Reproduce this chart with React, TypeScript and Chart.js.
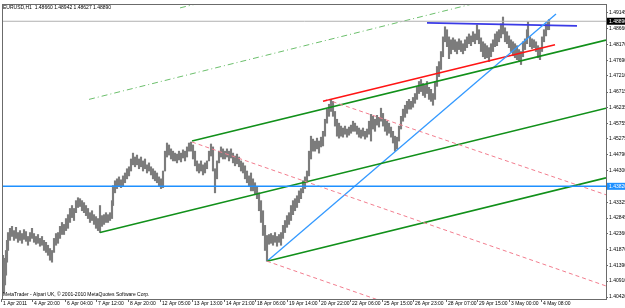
import React, { useEffect, useRef } from 'react';
import { Chart, registerables } from 'chart.js';

Chart.register(...registerables);

const FONT = "'Liberation Sans', Arial, sans-serif";

const symbol = 'EURUSD,H1';
const lastOpen = 1.4866;
const lastHigh = 1.48942;
const lastLow = 1.48627;
const lastClose = 1.4889;
const blueLevel = 1.4382;
const priceMin = 1.40359;
const priceMax = 1.4942;
const lastIndex = 603;

const priceTicks = [
  1.49145, 1.4866, 1.4817, 1.4769, 1.4721, 1.46715, 1.46235, 1.45755, 1.45275, 1.4479,
  1.443, 1.43325, 1.42845, 1.4236, 1.4187, 1.4139, 1.4091, 1.4042,
];

const timeTickIndex = [-2, 29, 62, 93, 125, 157, 189, 221, 252, 284, 316, 347, 379, 410, 443, 474, 506, 538];
const timeTickLabels = [
  '1 Apr 2011', '4 Apr 20:00', '6 Apr 04:00', '7 Apr 12:00', '8 Apr 20:00', '12 Apr 05:00',
  '13 Apr 13:00', '14 Apr 21:00', '18 Apr 06:00', '19 Apr 14:00', '20 Apr 22:00', '22 Apr 06:00',
  '25 Apr 15:00', '26 Apr 23:00', '28 Apr 07:00', '29 Apr 15:00', '3 May 00:00', '4 May 08:00',
];

const barIndex = [
  0, 1, 2, 3, 4, 5, 7, 9, 11, 13,
  15, 17, 19, 21, 23, 25, 27, 29, 31, 33,
  35, 37, 39, 41, 43, 45, 47, 49, 51, 53,
  55, 57, 59, 61, 63, 65, 67, 69, 71, 73,
  75, 77, 79, 81, 83, 85, 87, 89, 91, 93,
  95, 97, 99, 101, 103, 105, 107, 109, 110, 112,
  114, 116, 118, 120, 122, 124, 126, 128, 130, 132,
  134, 136, 138, 140, 142, 144, 146, 148, 150, 152,
  154, 156, 158, 160, 162, 164, 166, 168, 170, 172,
  174, 176, 178, 180, 182, 184, 186, 188, 190, 192,
  194, 196, 198, 200, 202, 204, 206, 208, 210, 212,
  214, 216, 218, 220, 222, 224, 226, 228, 230, 232,
  234, 236, 238, 240, 242, 244, 246, 248, 250, 252,
  254, 256, 258, 260, 262, 264, 266, 268, 270, 272,
  274, 276, 278, 280, 282, 284, 286, 288, 290, 292,
  294, 296, 298, 300, 302, 304, 306, 308, 310, 312,
  314, 316, 318, 320, 322, 324, 326, 328, 330, 332,
  334, 336, 338, 340, 342, 344, 346, 348, 350, 352,
  354, 356, 358, 360, 362, 364, 366, 368, 370, 372,
  374, 376, 378, 380, 382, 384, 386, 388, 390, 392,
  394, 396, 398, 400, 402, 404, 406, 408, 410, 412,
  414, 416, 418, 420, 422, 424, 426, 428, 430, 432,
  434, 436, 438, 440, 442, 444, 446, 448, 450, 452,
  454, 456, 458, 460, 462, 464, 466, 468, 470, 472,
  474, 476, 478, 480, 482, 484, 486, 488, 490, 492,
  494, 496, 498, 500, 502, 504, 506, 508, 510, 512,
  514, 516, 518, 520, 522, 524, 525, 527, 529, 531,
  533, 535, 537, 539, 541, 543, 545, 546,
];

const barHigh = [
  1.4170, 1.4149, 1.4161, 1.4185, 1.4216, 1.4240, 1.4253, 1.4259, 1.4246, 1.4256,
  1.4240, 1.4246, 1.4237, 1.4249, 1.4243, 1.4228, 1.4240, 1.4253, 1.4237, 1.4228,
  1.4234, 1.4222, 1.4228, 1.4216, 1.4210, 1.4201, 1.4191, 1.4185, 1.4222, 1.4237,
  1.4240, 1.4259, 1.4271, 1.4265, 1.4283, 1.4295, 1.4314, 1.4323, 1.4314, 1.4338,
  1.4347, 1.4344, 1.4338, 1.4332, 1.4323, 1.4314, 1.4301, 1.4307, 1.4295, 1.4289,
  1.4283, 1.4323, 1.4292, 1.4295, 1.4301, 1.4295, 1.4301, 1.4338, 1.4384, 1.4399,
  1.4405, 1.4411, 1.4402, 1.4414, 1.4423, 1.4436, 1.4442, 1.4466, 1.4484, 1.4472,
  1.4478, 1.4466, 1.4472, 1.4460, 1.4466, 1.4448, 1.4454, 1.4442, 1.4436, 1.4429,
  1.4423, 1.4411, 1.4405, 1.4429, 1.4490, 1.4515, 1.4509, 1.4497, 1.4490, 1.4484,
  1.4481, 1.4490, 1.4484, 1.4494, 1.4490, 1.4503, 1.4515, 1.4518, 1.4509, 1.4490,
  1.4460, 1.4451, 1.4460, 1.4448, 1.4454, 1.4460, 1.4490, 1.4512, 1.4503, 1.4436,
  1.4460, 1.4490, 1.4503, 1.4497, 1.4490, 1.4497, 1.4490, 1.4497, 1.4484, 1.4475,
  1.4481, 1.4472, 1.4460, 1.4454, 1.4445, 1.4429, 1.4414, 1.4423, 1.4405, 1.4393,
  1.4381, 1.4362, 1.4338, 1.4307, 1.4262, 1.4231, 1.4234, 1.4237, 1.4231, 1.4240,
  1.4228, 1.4234, 1.4240, 1.4262, 1.4277, 1.4292, 1.4301, 1.4323, 1.4338, 1.4344,
  1.4353, 1.4368, 1.4375, 1.4399, 1.4411, 1.4429, 1.4490, 1.4536, 1.4527, 1.4521,
  1.4530, 1.4521, 1.4533, 1.4551, 1.4588, 1.4619, 1.4634, 1.4649, 1.4643, 1.4612,
  1.4588, 1.4576, 1.4567, 1.4561, 1.4567, 1.4558, 1.4564, 1.4570, 1.4582, 1.4576,
  1.4567, 1.4561, 1.4555, 1.4561, 1.4551, 1.4558, 1.4582, 1.4603, 1.4597, 1.4588,
  1.4600, 1.4594, 1.4622, 1.4606, 1.4588, 1.4582, 1.4576, 1.4564, 1.4551, 1.4536,
  1.4533, 1.4567, 1.4597, 1.4619, 1.4631, 1.4643, 1.4649, 1.4643, 1.4655, 1.4667,
  1.4686, 1.4704, 1.4710, 1.4698, 1.4692, 1.4704, 1.4686, 1.4680, 1.4667, 1.4704,
  1.4750, 1.4765, 1.4796, 1.4841, 1.4872, 1.4863, 1.4841, 1.4832, 1.4838, 1.4832,
  1.4826, 1.4835, 1.4829, 1.4820, 1.4832, 1.4841, 1.4850, 1.4844, 1.4857, 1.4850,
  1.4878, 1.4863, 1.4838, 1.4826, 1.4820, 1.4814, 1.4808, 1.4820, 1.4832, 1.4850,
  1.4857, 1.4863, 1.4881, 1.4902, 1.4869, 1.4857, 1.4844, 1.4832, 1.4826, 1.4820,
  1.4814, 1.4802, 1.4796, 1.4826, 1.4835, 1.4863, 1.4887, 1.4841, 1.4835, 1.4832,
  1.4826, 1.4814, 1.4808, 1.4841, 1.4863, 1.4881, 1.4887, 1.4894,
];

const barLow = [
  1.4124, 1.4054, 1.4079, 1.4109, 1.4149, 1.4185, 1.4216, 1.4228, 1.4216, 1.4222,
  1.4210, 1.4216, 1.4207, 1.4219, 1.4213, 1.4201, 1.4213, 1.4222, 1.4210, 1.4204,
  1.4207, 1.4198, 1.4201, 1.4185, 1.4179, 1.4170, 1.4155, 1.4149, 1.4179, 1.4201,
  1.4207, 1.4222, 1.4234, 1.4234, 1.4246, 1.4253, 1.4271, 1.4286, 1.4277, 1.4301,
  1.4317, 1.4320, 1.4307, 1.4301, 1.4292, 1.4283, 1.4271, 1.4277, 1.4265, 1.4253,
  1.4246, 1.4240, 1.4259, 1.4265, 1.4271, 1.4271, 1.4277, 1.4283, 1.4323, 1.4362,
  1.4375, 1.4381, 1.4378, 1.4384, 1.4393, 1.4405, 1.4414, 1.4429, 1.4448, 1.4442,
  1.4448, 1.4436, 1.4442, 1.4429, 1.4436, 1.4423, 1.4429, 1.4417, 1.4405, 1.4399,
  1.4393, 1.4381, 1.4375, 1.4378, 1.4429, 1.4472, 1.4478, 1.4466, 1.4460, 1.4460,
  1.4454, 1.4463, 1.4457, 1.4469, 1.4460, 1.4472, 1.4490, 1.4490, 1.4466, 1.4445,
  1.4429, 1.4423, 1.4429, 1.4417, 1.4423, 1.4436, 1.4460, 1.4475, 1.4429, 1.4362,
  1.4405, 1.4454, 1.4472, 1.4466, 1.4466, 1.4472, 1.4460, 1.4469, 1.4454, 1.4445,
  1.4451, 1.4442, 1.4429, 1.4423, 1.4405, 1.4393, 1.4384, 1.4368, 1.4368, 1.4356,
  1.4344, 1.4307, 1.4271, 1.4231, 1.4185, 1.4152, 1.4204, 1.4207, 1.4201, 1.4210,
  1.4198, 1.4210, 1.4201, 1.4222, 1.4240, 1.4256, 1.4265, 1.4277, 1.4295, 1.4307,
  1.4317, 1.4332, 1.4344, 1.4362, 1.4375, 1.4393, 1.4414, 1.4466, 1.4490, 1.4490,
  1.4497, 1.4484, 1.4503, 1.4506, 1.4536, 1.4576, 1.4597, 1.4612, 1.4597, 1.4567,
  1.4536, 1.4530, 1.4536, 1.4533, 1.4542, 1.4533, 1.4539, 1.4545, 1.4551, 1.4551,
  1.4542, 1.4533, 1.4530, 1.4536, 1.4527, 1.4533, 1.4542, 1.4521, 1.4558, 1.4551,
  1.4570, 1.4564, 1.4582, 1.4567, 1.4551, 1.4539, 1.4545, 1.4533, 1.4515, 1.4490,
  1.4497, 1.4521, 1.4558, 1.4582, 1.4594, 1.4606, 1.4619, 1.4619, 1.4625, 1.4637,
  1.4649, 1.4667, 1.4673, 1.4661, 1.4655, 1.4667, 1.4649, 1.4643, 1.4631, 1.4649,
  1.4689, 1.4719, 1.4741, 1.4780, 1.4826, 1.4811, 1.4774, 1.4789, 1.4802, 1.4796,
  1.4789, 1.4802, 1.4796, 1.4789, 1.4799, 1.4808, 1.4820, 1.4814, 1.4826, 1.4820,
  1.4832, 1.4820, 1.4796, 1.4780, 1.4774, 1.4777, 1.4765, 1.4780, 1.4796, 1.4811,
  1.4814, 1.4826, 1.4838, 1.4850, 1.4826, 1.4820, 1.4808, 1.4796, 1.4783, 1.4777,
  1.4771, 1.4765, 1.4756, 1.4780, 1.4802, 1.4820, 1.4841, 1.4811, 1.4805, 1.4808,
  1.4796, 1.4777, 1.4771, 1.4796, 1.4826, 1.4844, 1.4863, 1.4863,
];

// Trend objects: [barIndex, price] end points
const greenDashA = [[86, 1.4649], [477, 1.4948]];
const greenDashB = [[177, 1.4930], [201, 1.4948]];
const greenUpper = [[189, 1.4521], [603, 1.4831]];
const greenMiddle = [[97, 1.4240], [603, 1.4622]];
const greenLower = [[264, 1.4152], [603, 1.4408]];
const pinkUpper = [[189, 1.4518], [603, 1.4076]];
const pinkMiddle = [[323, 1.4649], [603, 1.4356]];
const pinkLower = [[264, 1.4152], [377, 1.4031]];
const blueDiagonal = [[264, 1.4152], [553, 1.4911]];
const blueTop = [[424, 1.4884], [574, 1.4875]];
const redLine = [[320, 1.4643], [552, 1.4817]];

const toPts = (pts: number[][]) => pts.map(([x, y]) => ({ x, y }));

const trend = (pts: number[][], color: string, width: number, dash: number[] = []) => ({
  type: 'line' as const,
  data: toPts(pts),
  borderColor: color,
  borderWidth: width,
  borderDash: dash,
  pointRadius: 0,
  pointHoverRadius: 0,
  fill: false,
  tension: 0,
  order: 1,
});

const overlay = {
  id: 'overlay',
  afterDraw(chart: any) {
    const { ctx, chartArea: a } = chart;
    const xs = chart.scales.x;
    const ys = chart.scales.y;
    ctx.save();
    ctx.strokeStyle = '#6b6b6b';
    ctx.lineWidth = 1;
    ctx.strokeRect(a.left - 0.5, a.top + 0.5, a.right - a.left + 1, a.bottom - a.top);
    ctx.font = `5px ${FONT}`;
    ctx.textBaseline = 'middle';
    ctx.textAlign = 'left';
    ctx.fillStyle = '#000';
    timeTickIndex.forEach((v, i) => {
      const px = Math.round(xs.getPixelForValue(v));
      ctx.beginPath();
      ctx.moveTo(px + 0.5, a.bottom);
      ctx.lineTo(px + 0.5, a.bottom + 3);
      ctx.stroke();
      ctx.fillText(timeTickLabels[i], px + 2, a.bottom + 4.5);
    });
    const header = `${symbol}  ${lastOpen.toFixed(5)} ${lastHigh.toFixed(5)} ${lastLow.toFixed(5)} ${lastClose.toFixed(5)}`;
    ctx.fillText(header, 3, a.top + 3.5);
    ctx.fillText('MetaTrader - Alpari UK, \u00a9 2001-2010 MetaQuotes Software Corp.', 3, a.bottom - 4.5);
    const box = (price: number, bg: string) => {
      const py = ys.getPixelForValue(price);
      ctx.fillStyle = bg;
      ctx.fillRect(a.right + 1, py - 3.5, 19, 7);
      ctx.fillStyle = '#fff';
      ctx.fillText(price.toFixed(5), a.right + 3, py + 0.5);
    };
    box(lastClose, '#000');
    box(blueLevel, '#1e90ff');
    ctx.restore();
  },
};

export default function App() {
  const ref = useRef<HTMLCanvasElement>(null);
  useEffect(() => {
    const canvas = ref.current!;
    const chart = new Chart(canvas, {
      type: 'bar',
      data: {
        datasets: [
          {
            type: 'bar',
            data: barIndex.map((x, i) => ({ x, y: [barLow[i], barHigh[i]] })) as any,
            backgroundColor: '#7c7c7c',
            barThickness: 1.5,
            grouped: false,
            order: 10,
          } as any,
          trend([[0, lastClose], [lastIndex, lastClose]], '#b0b0b0', 1),
          trend([[0, blueLevel], [lastIndex, blueLevel]], '#1e90ff', 1.5),
          trend(greenDashA, '#6cbf6c', 1, [6, 3, 1, 3]),
          trend(greenDashB, '#6cbf6c', 1, [6, 3, 1, 3]),
          trend(pinkUpper, '#f27d8e', 1, [4, 3]),
          trend(pinkMiddle, '#f27d8e', 1, [4, 3]),
          trend(pinkLower, '#f27d8e', 1, [4, 3]),
          trend(greenUpper, '#11901a', 1.6),
          trend(greenMiddle, '#11901a', 1.6),
          trend(greenLower, '#11901a', 1.6),
          trend(blueDiagonal, '#3399ff', 1.3),
          trend(redLine, '#ff1414', 1.6),
          trend(blueTop, '#3a3ae6', 1.8),
        ],
      },
      options: {
        responsive: false,
        animation: false,
        events: [],
        layout: { padding: { left: 3, top: 2, right: 0, bottom: 0 } },
        plugins: { legend: { display: false }, tooltip: { enabled: false } },
        scales: {
          x: {
            type: 'linear',
            min: 0,
            max: lastIndex,
            offset: false,
            grid: { display: false },
            border: { display: false },
            ticks: { display: false },
            afterFit: (s: any) => { s.height = 9; },
          },
          y: {
            type: 'linear',
            position: 'right',
            min: priceMin,
            max: priceMax,
            grid: { display: true, drawOnChartArea: false, drawTicks: true, tickLength: 2, color: '#6b6b6b' },
            border: { display: false },
            ticks: {
              font: { family: FONT, size: 5 },
              color: '#000',
              padding: 1,
              autoSkip: false,
              callback: (v: any) => Number(v).toFixed(5),
            },
            afterBuildTicks: (s: any) => { s.ticks = priceTicks.map((v) => ({ value: v })); },
            afterFit: (s: any) => { s.width = 19; },
          },
        },
      } as any,
      plugins: [overlay],
    });
    return () => chart.destroy();
  }, []);
  return (
    <div style={{ position: 'fixed', left: 0, top: 0, width: 625, height: 308, background: '#fff' }}>
      <canvas ref={ref} width={625} height={308} style={{ display: 'block' }} />
    </div>
  );
}
